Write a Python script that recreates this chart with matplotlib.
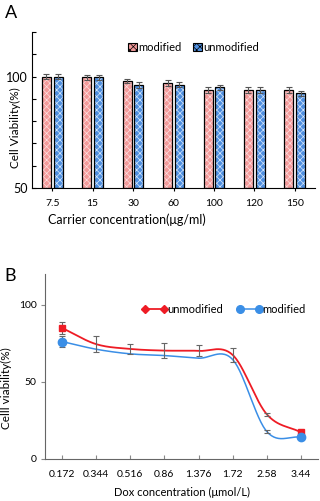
import numpy as np
import matplotlib
matplotlib.use("Agg")
import matplotlib.pyplot as plt
from matplotlib.patches import Patch
from matplotlib.lines import Line2D

plt.rcParams['font.family'] = ['Lato', 'DejaVu Sans']
plt.rcParams['hatch.linewidth'] = 0.5

# Panel A data
carrier_conc = ['7.5', '15', '30', '60', '100', '120', '150']
viab_modified = [100.0, 99.7, 98.1, 97.0, 94.0, 94.0, 94.0]
viab_unmodified = [100.0, 99.7, 96.3, 96.3, 95.2, 94.0, 92.5]
err_modified = [1.0, 1.2, 1.0, 1.3, 1.2, 1.2, 1.2]
err_unmodified = [1.2, 1.2, 1.4, 1.2, 1.2, 1.2, 1.2]

# Panel B data
dox_conc = ['0.172', '0.344', '0.516', '0.86', '1.376', '1.72', '2.58', '3.44']
b_unmodified = [85, 74.5, 71.4, 70.3, 70.1, 67.5, 29, 17.3]
b_unmod_err = [3.8, 5.2, 3.5, 5.0, 3.6, 4.8, 1.0, 1.0]
b_modified = [76.2, 71.2, 68.2, 67.1, 65.4, 64.5, 17.8, 14.1]
b_mod_err = [3.6, 0, 0, 0, 0, 0, 1.0, 0]


def smooth(x, y, n=30):
    # Catmull-Rom spline through the points (Excel-like smoothed line)
    x = np.asarray(x, float)
    y = np.asarray(y, float)
    px = np.concatenate([[2 * x[0] - x[1]], x, [2 * x[-1] - x[-2]]])
    py = np.concatenate([[2 * y[0] - y[1]], y, [2 * y[-1] - y[-2]]])
    xs, ys = [], []
    t = np.linspace(0, 1, n)
    for i in range(1, len(px) - 2):
        for p, out in ((px, xs), (py, ys)):
            p0, p1, p2, p3 = p[i - 1], p[i], p[i + 1], p[i + 2]
            out.extend(0.5 * ((2 * p1) + (-p0 + p2) * t
                              + (2 * p0 - 5 * p1 + 4 * p2 - p3) * t ** 2
                              + (-p0 + 3 * p1 - 3 * p2 + p3) * t ** 3))
    return np.array(xs), np.array(ys)


fig = plt.figure(figsize=(3.2, 5.01), dpi=100)

# ---------- Panel A ----------
axA = fig.add_axes([32 / 320, 1 - 188 / 501, 283 / 320, 156 / 501])
red_face = '#f39a9a'
blue_face = '#4f8fe0'
x = np.arange(len(carrier_conc))
w = 0.22
off = 0.145
axA.bar(x - off, np.array(viab_modified) - 50, w, bottom=50, color=red_face,
        edgecolor='#fde0e0', hatch='xxxxx', linewidth=0)
axA.bar(x - off, np.array(viab_modified) - 50, w, bottom=50, fill=False,
        edgecolor='black', linewidth=0.9)
axA.bar(x + off, np.array(viab_unmodified) - 50, w, bottom=50, color=blue_face,
        edgecolor='#d8e8fb', hatch='xxxxx', linewidth=0)
axA.bar(x + off, np.array(viab_unmodified) - 50, w, bottom=50, fill=False,
        edgecolor='black', linewidth=0.9)
axA.errorbar(x - off, viab_modified, yerr=err_modified, fmt='none',
             ecolor='#555555', elinewidth=0.8, capsize=2.5, capthick=0.8)
axA.errorbar(x + off, viab_unmodified, yerr=err_unmodified, fmt='none',
             ecolor='#555555', elinewidth=0.8, capsize=2.5, capthick=0.8)
axA.set_xlim(-0.5, len(carrier_conc) - 0.5)
axA.set_ylim(50, 120)
axA.set_yticks(np.arange(50, 121, 10))
axA.set_yticklabels(['50', '', '', '', '', '100', '', ''])
axA.set_xticks(x)
axA.set_xticklabels(carrier_conc)
axA.tick_params(axis='y', direction='in', length=3, labelsize=9, pad=3)
axA.tick_params(axis='x', direction='out', length=2, labelsize=7.5, pad=6)
for s in ['top', 'right']:
    axA.spines[s].set_visible(False)
axA.set_xlabel('Carrier concentration(μg/ml)', fontsize=9)
axA.xaxis.set_label_coords(0.336, -0.16)
axA.set_ylabel('Cell Viability(%)', fontsize=8.5)
axA.yaxis.set_label_coords(-0.04, 0.385)
handlesA = [Patch(facecolor=red_face, edgecolor='black', hatch='xxxxx', linewidth=0.8),
            Patch(facecolor=blue_face, edgecolor='black', hatch='xxxxx', linewidth=0.8)]
axA.legend(handlesA, ['modified', 'unmodified'], ncol=2, frameon=False,
           fontsize=8, loc='upper center', bbox_to_anchor=(0.57, 1.0),
           handlelength=0.8, handleheight=0.8, handletextpad=0.15,
           columnspacing=1.0)
fig.text(5 / 320, 1 - 13 / 501, 'A', fontsize=13, va='center', ha='left')

# ---------- Panel B ----------
axB = fig.add_axes([45 / 320, 1 - 459 / 501, 273 / 320, 185 / 501])
red_line = '#ee1c25'
blue_line = '#3a8ee6'
xb = np.arange(len(dox_conc))
sx, sy = smooth(xb, b_unmodified)
axB.plot(sx, sy, color=red_line, lw=1.3)
sx, sy = smooth(xb, b_modified)
axB.plot(sx, sy, color=blue_line, lw=1.1)
axB.errorbar(xb, b_unmodified, yerr=b_unmod_err, fmt='none', ecolor='#666666',
             elinewidth=0.8, capsize=2.5, capthick=0.8)
mask = np.array(b_mod_err) > 0
axB.errorbar(xb[mask], np.array(b_modified)[mask], yerr=np.array(b_mod_err)[mask],
             fmt='none', ecolor='#666666', elinewidth=0.8, capsize=2.5, capthick=0.8)
ends = [0, len(xb) - 1]
axB.plot(xb[ends], np.array(b_unmodified)[ends], 's', color=red_line, ms=4.5, ls='none')
axB.plot(xb[ends], np.array(b_modified)[ends], 'o', color=blue_line, ms=6, ls='none')
axB.set_xlim(-0.5, len(dox_conc) - 0.5)
axB.set_ylim(0, 120)
axB.set_yticks([0, 50, 100])
axB.set_xticks(xb)
axB.set_xticklabels(dox_conc)
axB.tick_params(axis='y', direction='out', length=3, labelsize=7.5, pad=3, color='#888888')
axB.tick_params(axis='x', direction='in', length=3, labelsize=7.5, pad=8, color='#888888')
for s in ['top', 'right']:
    axB.spines[s].set_visible(False)
for s in ['left', 'bottom']:
    axB.spines[s].set_color('#666666')
axB.set_xlabel('Dox concentration (μmol/L)', fontsize=8, labelpad=6)
axB.set_ylabel('Celll viability(%)', fontsize=8.5)
axB.yaxis.set_label_coords(-0.12, 0.384)
handlesB = [Line2D([], [], color=red_line, marker='D', ms=4, lw=1.3),
            Line2D([], [], color=blue_line, marker='o', ms=5.5, lw=1.1)]
axB.legend(handlesB, ['unmodified', 'modified'], ncol=2, frameon=False,
           fontsize=8, loc='upper right', bbox_to_anchor=(0.99, 0.89),
           numpoints=2, handlelength=2.3, handletextpad=0.0,
           columnspacing=1.2)
fig.text(4 / 320, 1 - 276 / 501, 'B', fontsize=13, va='center', ha='left')

fig.savefig('out.png', dpi=100)
